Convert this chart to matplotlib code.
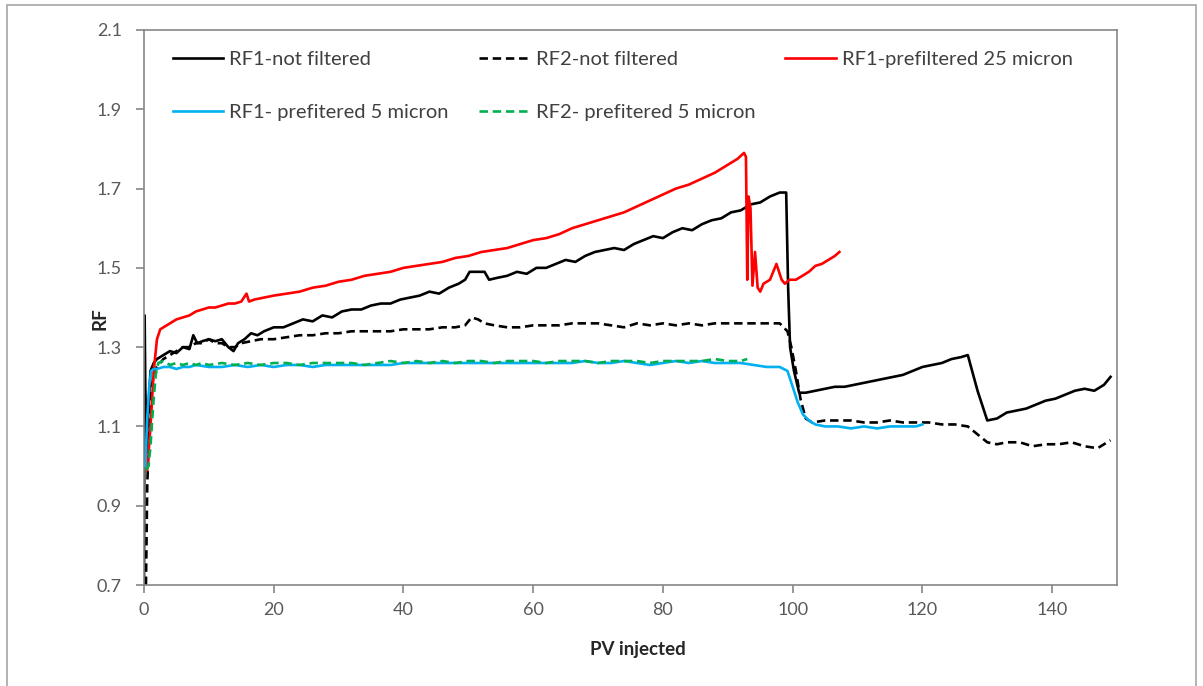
import matplotlib.pyplot as plt
from matplotlib.patches import Rectangle

plt.rcParams['font.family'] = ['Lato', 'DejaVu Sans']

# RF1 - not filtered (black solid)
rf1_nf_x = [0, 0.1, 0.2, 0.4, 0.7, 1.0, 1.5, 2, 3, 4,
            5, 6, 7, 7.6, 8.2, 9, 10, 11, 12, 13,
            13.8, 14.5, 15.5, 16.5, 17.5, 18.5, 20, 21.5, 23, 24.5,
            26, 27.5, 29, 30.5, 32, 33.5, 35, 36.5, 38, 39.5,
            41, 42.5, 44, 45.5, 47, 48.5, 49.5, 50.2, 51.5, 52.5,
            53.2, 54.5, 56, 57.5, 59, 60.5, 62, 63.5, 65, 66.5,
            68, 69.5, 71, 72.5, 74, 75.5, 77, 78.5, 80, 81.5,
            83, 84.5, 86, 87.5, 89, 90.5, 92, 93.5, 95, 96.5,
            98, 99.0, 99.3, 99.6, 100.2, 101, 102, 103.5, 105, 106.5,
            108, 109.5, 111, 112.5, 114, 115.5, 117, 118.5, 120, 121.5,
            123, 124.5, 126, 127, 128.5, 130, 131.5, 133, 134.5, 136,
            137.5, 139, 140.5, 142, 143.5, 145, 146.5, 148, 149]
rf1_nf_y = [0.70, 1.38, 1.20, 1.05, 1.15, 1.24, 1.26, 1.27, 1.28, 1.29,
            1.285, 1.30, 1.295, 1.33, 1.31, 1.315, 1.32, 1.315, 1.32, 1.30,
            1.29, 1.31, 1.32, 1.335, 1.33, 1.34, 1.35, 1.35, 1.36, 1.37,
            1.365, 1.38, 1.375, 1.39, 1.395, 1.395, 1.405, 1.41, 1.41, 1.42,
            1.425, 1.43, 1.44, 1.435, 1.45, 1.46, 1.47, 1.49, 1.49, 1.49,
            1.47, 1.475, 1.48, 1.49, 1.485, 1.50, 1.50, 1.51, 1.52, 1.515,
            1.53, 1.54, 1.545, 1.55, 1.545, 1.56, 1.57, 1.58, 1.575, 1.59,
            1.60, 1.595, 1.61, 1.62, 1.625, 1.64, 1.645, 1.66, 1.665, 1.68,
            1.69, 1.69, 1.45, 1.30, 1.24, 1.185, 1.185, 1.19, 1.195, 1.20,
            1.20, 1.205, 1.21, 1.215, 1.22, 1.225, 1.23, 1.24, 1.25, 1.255,
            1.26, 1.27, 1.275, 1.28, 1.19, 1.115, 1.12, 1.135, 1.14, 1.145,
            1.155, 1.165, 1.17, 1.18, 1.19, 1.195, 1.19, 1.205, 1.225]

# RF2 - not filtered (black dashed)
rf2_nf_x = [0.3, 0.5, 0.8, 1.2, 1.6, 2, 3, 4, 5, 6,
            7, 8, 9, 10, 11, 12, 13, 14, 15, 16.5,
            18, 20, 22, 24, 26, 28, 30, 32, 34, 36,
            38, 40, 42, 44, 46, 48, 49.5, 50.5, 51.5, 52.5,
            54, 56, 58, 60, 62, 64, 66, 68, 70, 72,
            74, 76, 78, 80, 82, 84, 86, 88, 90, 92,
            94, 96, 98, 99.2, 99.8, 100.5, 101.2, 102, 103, 105,
            107, 109, 111, 113, 115, 117, 119, 121, 123, 125,
            127, 128.5, 130, 131.5, 133, 135, 137, 139, 141, 143,
            145, 147, 149]
rf2_nf_y = [0.70, 0.95, 1.10, 1.20, 1.24, 1.25, 1.27, 1.28, 1.29, 1.30,
            1.30, 1.31, 1.31, 1.32, 1.31, 1.31, 1.30, 1.30, 1.31, 1.315,
            1.32, 1.32, 1.325, 1.33, 1.33, 1.335, 1.335, 1.34, 1.34, 1.34,
            1.34, 1.345, 1.345, 1.345, 1.35, 1.35, 1.355, 1.375, 1.37, 1.36,
            1.355, 1.35, 1.35, 1.355, 1.355, 1.355, 1.36, 1.36, 1.36, 1.355,
            1.35, 1.36, 1.355, 1.36, 1.355, 1.36, 1.355, 1.36, 1.36, 1.36,
            1.36, 1.36, 1.36, 1.34, 1.30, 1.24, 1.17, 1.12, 1.11, 1.115,
            1.115, 1.115, 1.11, 1.11, 1.115, 1.11, 1.11, 1.11, 1.105, 1.105,
            1.10, 1.08, 1.06, 1.055, 1.06, 1.06, 1.05, 1.055, 1.055, 1.06,
            1.05, 1.045, 1.065]

# RF1 - prefiltered 25 micron (red)
rf1_25_x = [0.5, 1.0, 1.5, 2.0, 2.5, 3, 4, 5, 6, 7,
            8, 9, 10, 11, 12, 13, 14, 15, 15.8, 16.2,
            17, 18.5, 20, 22, 24, 26, 28, 30, 32, 34,
            36, 38, 40, 42, 44, 46, 48, 50, 52, 54,
            56, 58, 60, 62, 64, 66, 68, 70, 72, 74,
            76, 78, 80, 82, 84, 86, 88, 90, 91.5, 92.5,
            92.8, 93.0, 93.2, 93.5, 93.8, 94.2, 94.6, 95.0, 95.5, 96.5,
            97.5, 98.3, 98.8, 99.5, 100.5, 101.5, 102.5, 103.5, 104.5, 105.5,
            106.5, 107.2]
rf1_25_y = [0.99, 1.10, 1.24, 1.32, 1.345, 1.35, 1.36, 1.37, 1.375, 1.38,
            1.39, 1.395, 1.40, 1.40, 1.405, 1.41, 1.41, 1.415, 1.435, 1.415,
            1.42, 1.425, 1.43, 1.435, 1.44, 1.45, 1.455, 1.465, 1.47, 1.48,
            1.485, 1.49, 1.50, 1.505, 1.51, 1.515, 1.525, 1.53, 1.54, 1.545,
            1.55, 1.56, 1.57, 1.575, 1.585, 1.60, 1.61, 1.62, 1.63, 1.64,
            1.655, 1.67, 1.685, 1.70, 1.71, 1.725, 1.74, 1.76, 1.775, 1.79,
            1.78, 1.47, 1.68, 1.65, 1.455, 1.54, 1.45, 1.44, 1.46, 1.47,
            1.51, 1.47, 1.46, 1.47, 1.47, 1.48, 1.49, 1.505, 1.51, 1.52,
            1.53, 1.54]

# RF1 - prefitered 5 micron (blue)
rf1_5_x = [0.2, 0.5, 0.8, 1.1, 1.5, 2, 3, 4, 5, 6,
           7, 8, 10, 12, 14, 16, 18, 20, 22, 24,
           26, 28, 30, 32, 34, 36, 38, 40, 42, 44,
           46, 48, 50, 52, 54, 56, 58, 60, 62, 64,
           66, 68, 70, 72, 74, 76, 78, 80, 82, 84,
           86, 88, 90, 92, 94, 96, 98, 99.2, 100, 100.8,
           101.6, 102.5, 103.5, 105, 107, 109, 111, 113, 115, 117,
           119, 120]
rf1_5_y = [1.00, 1.12, 1.20, 1.24, 1.245, 1.245, 1.25, 1.25, 1.245, 1.25,
           1.25, 1.255, 1.25, 1.25, 1.255, 1.25, 1.255, 1.25, 1.255, 1.255,
           1.25, 1.255, 1.255, 1.255, 1.255, 1.255, 1.255, 1.26, 1.26, 1.26,
           1.26, 1.26, 1.26, 1.26, 1.26, 1.26, 1.26, 1.26, 1.26, 1.26,
           1.26, 1.265, 1.26, 1.26, 1.265, 1.26, 1.255, 1.26, 1.265, 1.26,
           1.265, 1.26, 1.26, 1.26, 1.255, 1.25, 1.25, 1.24, 1.20, 1.16,
           1.13, 1.115, 1.105, 1.10, 1.10, 1.095, 1.10, 1.095, 1.10, 1.10,
           1.10, 1.105]

# RF2 - prefitered 5 micron (green dashed)
rf2_5_x = [0.3, 0.7, 1.0, 1.4, 1.8, 2.2, 3, 4, 5, 6,
           7, 8, 9, 10, 12, 14, 16, 18, 20, 22,
           24, 26, 28, 30, 32, 34, 36, 38, 40, 42,
           44, 46, 48, 50, 52, 54, 56, 58, 60, 62,
           64, 66, 68, 70, 72, 74, 76, 78, 80, 82,
           84, 86, 88, 90, 92, 93]
rf2_5_y = [0.99, 1.00, 1.05, 1.15, 1.23, 1.26, 1.265, 1.255, 1.26, 1.255,
           1.26, 1.255, 1.26, 1.255, 1.26, 1.255, 1.26, 1.255, 1.26, 1.26,
           1.255, 1.26, 1.26, 1.26, 1.26, 1.255, 1.26, 1.265, 1.26, 1.265,
           1.26, 1.265, 1.26, 1.265, 1.265, 1.26, 1.265, 1.265, 1.265, 1.26,
           1.265, 1.265, 1.265, 1.26, 1.265, 1.265, 1.265, 1.26, 1.265, 1.265,
           1.265, 1.265, 1.27, 1.265, 1.265, 1.27]

x_ticks = [0, 20, 40, 60, 80, 100, 120, 140]
y_ticks = [0.7, 0.9, 1.1, 1.3, 1.5, 1.7, 1.9, 2.1]

grey = '#868686'
dash = (0, (3.2, 1.8))

fig = plt.figure(figsize=(12.03, 6.86), dpi=100)
ax = fig.add_axes([144 / 1203, 1 - 585 / 686, (1117 - 144) / 1203, (585 - 30) / 686])

# outer chart border
fig.patches.append(Rectangle((7 / 1203, -0.02), (1196 - 7) / 1203, 1 - 5 / 686 + 0.02,
                             transform=fig.transFigure, fill=False,
                             edgecolor='#a6a6a6', linewidth=1.2))

lw = 1.9
l1, = ax.plot(rf1_nf_x, rf1_nf_y, color='black', lw=lw, label='RF1-not filtered')
l2, = ax.plot(rf2_nf_x, rf2_nf_y, color='black', lw=lw, ls=dash, label='RF2-not filtered')
l3, = ax.plot(rf1_25_x, rf1_25_y, color='#ff0000', lw=lw, label='RF1-prefiltered 25 micron')
l4, = ax.plot(rf1_5_x, rf1_5_y, color='#00b0f0', lw=lw, label='RF1- prefitered 5 micron')
l5, = ax.plot(rf2_5_x, rf2_5_y, color='#00b050', lw=lw, ls=dash, label='RF2- prefitered 5 micron')

ax.set_xlim(0, 150)
ax.set_ylim(0.7, 2.1)
ax.set_xticks(x_ticks)
ax.set_yticks(y_ticks)
ax.set_yticklabels([f'{v:.1f}' for v in y_ticks])

for s in ax.spines.values():
    s.set_color(grey)
    s.set_linewidth(1.2)
ax.tick_params(axis='both', colors=grey, length=6, width=1.2, labelsize=13,
               labelcolor='#595959')
ax.tick_params(axis='y', pad=10)
ax.tick_params(axis='x', pad=6)

ax.set_xlabel('PV injected', fontsize=13.5, fontweight='bold', color='#262626')
ax.set_ylabel('RF', fontsize=13.5, fontweight='bold', color='#262626')
ax.xaxis.set_label_coords(0.508, -0.1)
ax.yaxis.set_label_coords(-0.036, 0.48)

ax.legend([l1, l4, l2, l5, l3],
          [l.get_label() for l in [l1, l4, l2, l5, l3]],
          ncol=3, loc='upper left', bbox_to_anchor=(0.0195, 0.98), frameon=False,
          fontsize=14.5, borderpad=0, handlelength=2.5, columnspacing=1.5,
          labelspacing=1.75, handletextpad=0.3, labelcolor='#404040')

fig.savefig('out.png', dpi=100)
